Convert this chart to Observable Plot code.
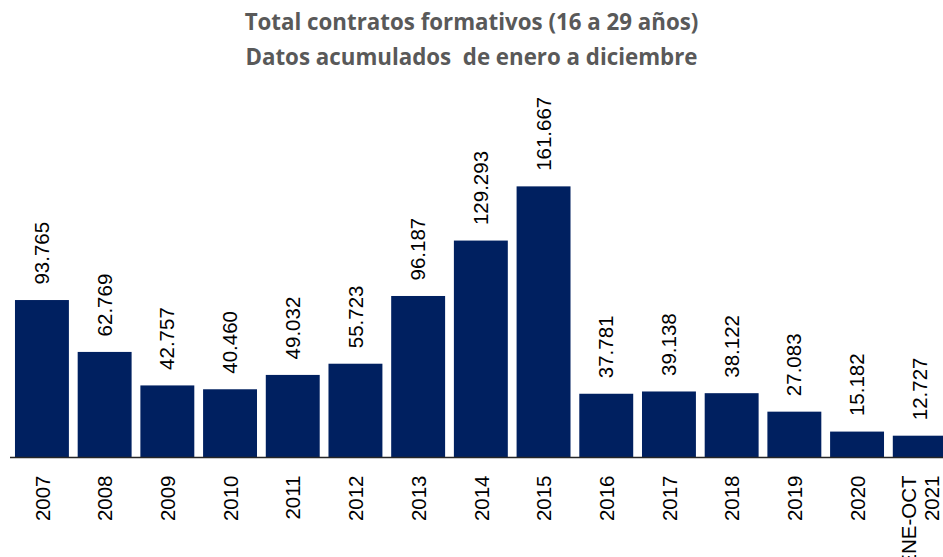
<!DOCTYPE html>
<html>
<head>
<meta charset="utf-8">
<script src="https://cdn.jsdelivr.net/npm/d3@7"></script>
<script src="https://cdn.jsdelivr.net/npm/@observablehq/plot@0.6"></script>
<style>
  html, body { margin: 0; padding: 0; background: #fff; overflow: hidden; }
  #wrap { position: relative; width: 943px; height: 557px; overflow: hidden; }
  #title {
    position: absolute; left: 0; top: 4px; width: 943px; text-align: center;
    font-family: "Open Sans", sans-serif; font-weight: 700; font-size: 22.3px;
    line-height: 35px; color: #595959; white-space: pre; z-index: 2;
  }
</style>
</head>
<body>
<div id="wrap">
  <div id="title">Total contratos formativos (16 a 29 años)
Datos acumulados  de enero a diciembre</div>
</div>
<script>
// ---- data ----
const periods = ["2007", "2008", "2009", "2010", "2011", "2012", "2013", "2014", "2015", "2016", "2017", "2018", "2019", "2020", "ENE-OCT\n2021"];
const contratos = [93765, 62769, 42757, 40460, 49032, 55723, 96187, 129293, 161667, 37781, 39138, 38122, 27083, 15182, 12727];

const data = periods.map((p, i) => ({period: p, value: contratos[i]}));
const es = d3.formatLocale({decimal: ",", thousands: ".", grouping: [3], currency: ["", " €"]});
const fmt = es.format(",d");

const chart = Plot.plot({
  width: 943,
  height: 557,
  marginLeft: 10,
  marginRight: 0,
  marginTop: 0,
  marginBottom: 100,
  style: {background: "#fff", fontFamily: "'Liberation Sans', Arial, sans-serif"},
  x: {domain: periods, range: [6.2, 955.5], padding: 0.14, round: false, axis: null},
  y: {domain: [0, 100000], range: [457, 289.6], axis: null},
  marks: [
    Plot.barY(data, {x: "period", y: "value", fill: "#002060"}),
    Plot.ruleY([0], {stroke: "#262626", strokeWidth: 1.5}),
    Plot.text(data, {
      x: "period", y: "value", text: d => fmt(d.value),
      rotate: -90, textAnchor: "start", dy: -16,
      fontSize: 20.5, fill: "#000"
    }),
    Plot.text(data, {
      x: "period", frameAnchor: "bottom", text: "period",
      rotate: -90, textAnchor: "end", lineAnchor: "middle", lineHeight: 1.1, dy: 18,
      fontSize: 20.5, fill: "#000"
    })
  ]
});
document.getElementById("wrap").prepend(chart);
</script>
</body>
</html>
